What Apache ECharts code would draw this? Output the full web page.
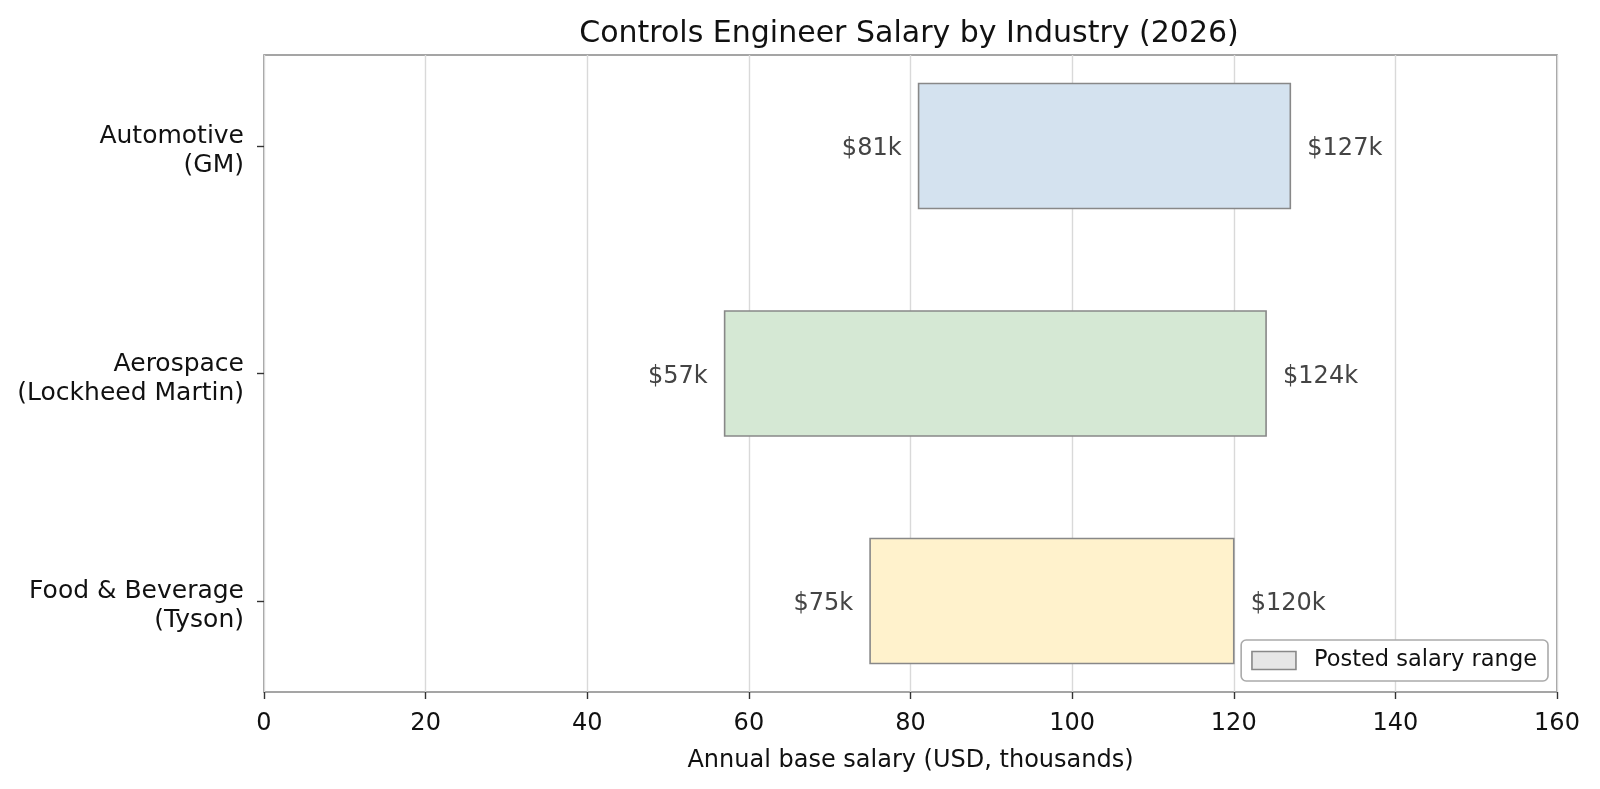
<!DOCTYPE html>
<html lang="en">
<head>
    <meta charset="UTF-8">
    <title>Controls Engineer Salary by Industry (2026)</title>
    <style>
        *{
            margin: 0;
            padding: 0;
        }
        #box{
            width: 1600px;
            height: 789px;
            background: #ffffff;
        }
    </style>
    <script src="https://cdn.jsdelivr.net/npm/echarts@6.0.0/dist/echarts.min.js"></script>
</head>
<body>
    <div id="box"></div>
    <script>
        // 数据
        var industries = ['Automotive\n(GM)', 'Aerospace\n(Lockheed Martin)', 'Food & Beverage\n(Tyson)'];
        var lowSalary = [81, 57, 75];
        var highSalary = [127, 124, 120];
        var barColors = ['#d4e2ef', '#d5e8d4', '#fff2cc'];
        var xTicks = [0, 20, 40, 60, 80, 100, 120, 140, 160];

        var rows = [];
        for (var i = 0; i < industries.length; i++) {
            rows.push([lowSalary[i], highSalary[i], i]);
        }

        function renderRange(params, api) {
            var lo = api.coord([api.value(0), api.value(2)]);
            var hi = api.coord([api.value(1), api.value(2)]);
            var h = api.size([0, 0.55])[1];
            var idx = params.dataIndex;
            return {
                type: 'group',
                children: [
                    {
                        type: 'rect',
                        shape: { x: lo[0], y: lo[1] - h / 2, width: hi[0] - lo[0], height: h },
                        style: { fill: barColors[idx], stroke: '#888888', lineWidth: 1.6 }
                    },
                    {
                        type: 'text',
                        x: lo[0] - 17, y: lo[1] + 3,
                        style: {
                            text: '$' + api.value(0) + 'k', align: 'right', verticalAlign: 'middle',
                            fill: '#444444', fontSize: 24, fontFamily: 'DejaVu Sans'
                        }
                    },
                    {
                        type: 'text',
                        x: hi[0] + 17, y: hi[1] + 3,
                        style: {
                            text: '$' + api.value(1) + 'k', align: 'left', verticalAlign: 'middle',
                            fill: '#444444', fontSize: 24, fontFamily: 'DejaVu Sans'
                        }
                    }
                ]
            };
        }

        // 两行标签，加上边距让整体略向下
        function catLabel(v) {
            var parts = industries[Math.round(v)].split('\n');
            return '{p|' + parts[0] + '}\n{p|' + parts[1] + '}';
        }

        var myChart = echarts.init(document.getElementById('box'));
        var option = {
            backgroundColor: '#ffffff',
            animation: false,
            textStyle: { fontFamily: 'DejaVu Sans' },
            title: {
                text: 'Controls Engineer Salary by Industry (2026)',
                left: 904,
                textAlign: 'center',
                top: 14,
                textStyle: { fontSize: 30, fontWeight: 'normal', color: '#111111', fontFamily: 'DejaVu Sans' }
            },
            grid: {
                left: 264,
                right: 43,
                top: 55,
                bottom: 97,
                show: true,
                borderColor: '#888888',
                borderWidth: 1.6
            },
            legend: {
                right: 52,
                bottom: 108,
                orient: 'vertical',
                padding: [9, 11, 9, 10],
                borderColor: '#aaaaaa',
                borderWidth: 1.6,
                borderRadius: 5,
                backgroundColor: '#ffffff',
                itemWidth: 44,
                itemHeight: 18,
                textStyle: { fontSize: 22.5, color: '#111111', fontFamily: 'DejaVu Sans', padding: [0, 0, 0, 13] },
                data: [{
                    name: 'Posted salary range',
                    icon: 'rect',
                    itemStyle: { color: '#e6e6e6', borderColor: '#888888', borderWidth: 1.6 }
                }]
            },
            xAxis: {
                type: 'value',
                min: 0,
                max: 160,
                interval: 20,
                name: 'Annual base salary (USD, thousands)',
                nameLocation: 'middle',
                nameGap: 57,
                nameTextStyle: { fontSize: 24, color: '#111111', fontFamily: 'DejaVu Sans' },
                axisLine: { show: false, onZero: false },
                axisTick: { show: true, length: 7, lineStyle: { color: '#333333', width: 1.4 } },
                axisLabel: {
                    fontSize: 24, color: '#111111', margin: 20,
                    customValues: xTicks
                },
                splitLine: { show: true, lineStyle: { color: '#d9d9d9', width: 1.4 } }
            },
            yAxis: {
                type: 'value',
                min: -0.4,
                max: 2.4,
                inverse: true,
                axisLine: { show: false, onZero: false },
                axisTick: { show: true, length: 7, customValues: [0, 1, 2], lineStyle: { color: '#333333', width: 1.4 } },
                axisLabel: {
                    customValues: [0, 1, 2],
                    color: '#111111',
                    margin: 20,
                    align: 'right',
                    formatter: catLabel,
                    rich: {
                        p: { fontSize: 25, lineHeight: 29, color: '#111111', fontFamily: 'DejaVu Sans', padding: [10, 0, 0, 0], align: 'right' }
                    }
                },
                splitLine: { show: false }
            },
            series: [{
                name: 'Posted salary range',
                type: 'custom',
                renderItem: renderRange,
                encode: { x: [0, 1], y: 2 },
                data: rows
            }]
        };
        myChart.setOption(option);
    </script>
</body>
</html>
